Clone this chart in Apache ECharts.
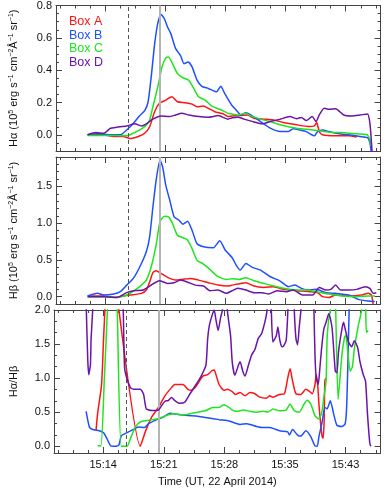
<!DOCTYPE html>
<html>
<head>
<meta charset="utf-8">
<script src="https://cdn.jsdelivr.net/npm/echarts@6/dist/echarts.min.js"></script>
<style>
  html, body { margin: 0; padding: 0; background: #fff; }
  #chart { width: 390px; height: 488px; }
</style>
</head>
<body>
<div id="chart"></div>
<script>
// time axis in minutes after 15:00 UT
var xTickVals = [14, 21.2, 28.4, 35.6, 42.8];
var xTickLabels = ['15:14', '15:21', '15:28', '15:35', '15:43'];
var eventTimes = [16.77, 20.6];   // dashed, solid grey

var boxNames = ['Box A', 'Box B', 'Box C', 'Box D'];
var boxColors = ['#ff1414', '#1f50ff', '#1fe51f', '#6a14a8'];

// H-alpha (10^5 erg s-1 cm-2 A-1 sr-1)
var haA = [[11.93,0.0],[13.88,0.0],[15.05,-0.01],[16.22,-0.01],[17.01,-0.023],[17.98,-0.01],[18.76,0.01],[19.35,0.05],[19.94,0.143],[20.52,0.195],[21.29,0.215],[22.00,0.236],[22.66,0.205],[23.63,0.199],[24.42,0.19],[25.00,0.174],[25.79,0.178],[26.37,0.164],[27.15,0.143],[28.13,0.13],[28.72,0.113],[29.22,0.117],[30.27,0.119],[31.06,0.123],[31.83,0.103],[33.00,0.097],[34.17,0.092],[35.34,0.076],[36.91,0.062],[38.47,0.051],[39.05,0.055],[39.32,0.076],[39.64,0.02],[40.02,0.0],[41.59,-0.006],[43.15,-0.006],[44.12,-0.014]];
var haB = [[11.93,0.0],[13.10,0.006],[14.67,0.0],[15.84,0.0],[16.61,0.03],[17.39,0.07],[18.18,0.12],[18.76,0.15],[19.15,0.2],[19.54,0.36],[19.94,0.56],[20.32,0.69],[20.71,0.745],[21.11,0.718],[21.49,0.667],[21.88,0.626],[22.46,0.533],[23.05,0.49],[23.45,0.44],[23.95,0.45],[24.42,0.42],[25.00,0.34],[25.59,0.30],[26.37,0.287],[27.35,0.266],[27.85,0.30],[28.32,0.256],[28.90,0.205],[29.22,0.18],[29.69,0.154],[30.27,0.123],[30.86,0.137],[31.44,0.123],[32.61,0.082],[33.78,0.041],[34.96,0.02],[35.93,0.02],[36.51,0.037],[37.30,0.03],[38.08,0.02],[39.05,-0.006],[39.44,0.02],[40.02,0.03],[40.81,0.02],[41.98,0.006],[43.15,0.0],[44.52,-0.01],[45.41,-0.018],[45.69,-0.05],[45.88,-0.12]];
var haC = [[11.93,-0.004],[13.88,-0.004],[15.44,-0.004],[16.61,-0.006],[17.39,0.01],[18.18,0.03],[18.95,0.06],[19.35,0.092],[19.74,0.174],[20.32,0.297],[20.83,0.42],[21.29,0.478],[21.61,0.482],[22.08,0.44],[22.66,0.38],[23.25,0.355],[24.03,0.338],[24.62,0.287],[25.20,0.236],[25.98,0.215],[26.76,0.178],[27.73,0.158],[28.72,0.133],[29.22,0.128],[29.89,0.123],[30.86,0.133],[31.44,0.117],[32.61,0.097],[33.78,0.082],[34.96,0.062],[36.91,0.041],[38.85,0.03],[40.81,0.016],[42.37,0.014],[43.93,0.006],[45.29,0.002],[45.69,-0.03],[45.81,-0.07]];
var haD = [[11.93,0.0],[12.91,0.014],[13.88,0.01],[14.67,0.041],[15.44,0.047],[16.61,0.055],[17.59,0.068],[18.37,0.055],[18.95,0.068],[19.74,0.097],[20.71,0.117],[21.69,0.113],[22.46,0.123],[23.17,0.133],[24.03,0.123],[25.20,0.113],[26.37,0.109],[27.54,0.119],[28.72,0.097],[29.22,0.105],[29.89,0.109],[30.66,0.097],[31.83,0.08],[32.81,0.068],[33.78,0.082],[34.96,0.097],[36.13,0.113],[36.91,0.1],[37.50,0.107],[38.08,0.088],[38.78,0.113],[39.25,0.082],[39.64,0.123],[40.22,0.164],[40.81,0.158],[41.59,0.162],[42.57,0.123],[43.54,0.117],[44.52,0.123],[45.41,0.129],[45.69,0.072],[45.88,-0.05],[45.96,-0.12]];

// H-beta (10^5 erg s-1 cm-2 A-1 sr-1)
var hbA = [[11.93,0.008],[13.88,0.008],[15.05,-0.01],[16.22,0.008],[17.01,0.022],[18.37,0.045],[18.95,0.09],[19.35,0.2],[19.74,0.326],[20.12,0.353],[20.71,0.316],[21.49,0.262],[22.46,0.225],[23.25,0.235],[24.22,0.248],[25.20,0.225],[26.37,0.19],[27.54,0.157],[28.72,0.144],[29.22,0.157],[29.89,0.171],[30.86,0.19],[31.83,0.144],[33.00,0.126],[34.17,0.136],[35.34,0.099],[36.91,0.081],[38.47,0.068],[39.44,0.054],[40.02,0.0],[40.81,-0.01],[41.59,0.022],[43.15,0.008],[44.71,0.022],[45.49,0.045],[45.88,0.022],[46.08,-0.11]];
var hbB = [[11.93,0.008],[13.10,0.045],[13.88,0.022],[15.05,0.035],[15.84,0.068],[16.61,0.157],[17.39,0.248],[18.18,0.407],[18.95,0.61],[19.35,0.814],[19.74,1.22],[20.12,1.58],[20.59,1.86],[20.91,1.76],[21.29,1.51],[21.76,1.31],[22.28,1.085],[22.86,1.04],[23.33,0.985],[23.87,1.026],[24.42,0.904],[25.00,0.723],[25.79,0.678],[26.96,0.665],[27.73,0.76],[28.40,0.632],[29.22,0.53],[29.69,0.43],[30.19,0.361],[30.86,0.452],[31.64,0.398],[32.61,0.361],[33.78,0.271],[34.96,0.212],[35.93,0.136],[36.71,0.157],[37.50,0.113],[38.27,0.09],[39.25,0.099],[40.42,0.054],[41.59,0.045],[43.15,0.022],[44.32,-0.037],[45.49,-0.06],[46.28,-0.065]];
var hbC = [[11.93,0.0],[13.88,0.0],[15.44,-0.01],[16.61,0.022],[17.59,0.09],[18.37,0.157],[18.95,0.225],[19.54,0.407],[20.12,0.7],[20.59,1.02],[21.11,1.094],[21.61,1.085],[22.08,0.995],[22.66,0.836],[23.25,0.805],[23.83,0.777],[24.42,0.655],[25.00,0.497],[25.79,0.443],[26.56,0.37],[27.54,0.271],[28.52,0.235],[29.22,0.242],[30.07,0.235],[30.86,0.258],[31.83,0.217],[33.00,0.18],[34.17,0.144],[35.34,0.113],[36.91,0.09],[38.08,0.09],[39.25,0.068],[40.81,0.035],[42.37,0.008],[43.93,0.0],[45.49,0.008],[46.28,0.008]];
var hbD = [[11.93,0.0],[13.88,0.0],[15.44,-0.01],[16.61,0.054],[17.39,0.081],[18.57,0.09],[19.35,0.144],[20.52,0.217],[21.49,0.18],[22.28,0.19],[23.05,0.225],[23.83,0.2],[24.81,0.157],[25.79,0.144],[26.56,0.081],[27.54,0.09],[28.52,0.045],[29.22,0.081],[29.89,0.113],[30.86,0.09],[31.83,0.054],[32.81,0.054],[33.59,0.035],[34.57,0.081],[35.74,0.068],[36.51,0.09],[37.68,0.022],[38.85,0.022],[39.64,0.126],[40.42,0.09],[41.01,0.099],[41.59,0.157],[42.18,0.09],[43.15,0.09],[44.12,0.099],[45.11,0.136],[45.69,0.113],[46.08,0.045],[46.46,0.054]];

// H-alpha / H-beta ratio (values above 2 run off the top of the panel)
var rA = [[13.15,0.235],[13.33,0.475],[13.80,0.9],[14.04,1.58],[14.20,2.0],[14.29,2.4],[15.79,2.4],[15.87,2.0],[18.41,0.0],[19.00,0.21],[19.77,0.43],[20.56,0.57],[21.34,0.74],[22.11,0.86],[22.51,0.906],[23.48,0.906],[24.07,0.835],[24.45,0.82],[25.04,0.88],[25.82,1.026],[26.41,1.05],[26.91,1.108],[27.19,1.12],[27.46,1.026],[27.78,0.906],[28.36,0.82],[28.75,0.835],[29.34,0.8],[29.69,0.76],[30.27,0.787],[30.86,0.74],[31.44,0.787],[32.03,0.77],[32.61,0.72],[33.40,0.705],[33.78,0.74],[34.17,0.72],[34.96,0.76],[35.54,0.77],[35.93,1.0],[36.21,1.137],[36.51,0.955],[36.91,0.77],[37.50,0.76],[38.08,0.835],[38.47,0.81],[38.85,0.77],[39.17,0.906],[39.32,1.05],[39.49,0.906],[39.64,0.62],[39.84,0.33],[40.02,0.14],[40.14,0.115],[40.26,0.38],[40.34,0.955],[40.46,1.0]];
var rB = [[11.97,0.51],[12.36,0.28],[12.75,0.245],[13.53,0.226],[14.04,0.197],[14.43,0.115],[14.90,0.005],[15.49,0.0],[15.87,0.02],[16.14,0.15],[16.66,0.187],[17.43,0.235],[18.21,0.28],[18.88,0.273],[19.39,0.33],[20.17,0.38],[21.14,0.427],[21.93,0.485],[22.90,0.465],[24.07,0.45],[25.24,0.44],[26.41,0.417],[27.78,0.39],[28.95,0.37],[29.34,0.355],[30.27,0.32],[31.06,0.33],[32.23,0.29],[33.00,0.273],[33.78,0.273],[34.96,0.226],[35.93,0.21],[36.13,0.163],[36.51,0.245],[37.10,0.163],[37.50,0.148],[38.08,0.226],[38.67,0.14],[39.17,0.005],[39.44,0.0],[39.64,0.14],[40.02,0.355],[40.34,0.57],[40.61,0.547],[40.99,0.667],[41.39,0.475],[41.78,0.307],[42.37,0.29],[42.76,0.33],[42.95,0.62],[43.15,1.58],[43.23,2.0],[43.30,2.4]];
var rC = [[13.33,0.005],[13.73,0.005],[14.12,0.95],[14.50,2.0],[14.58,2.4],[15.56,2.4],[15.67,2.0],[16.14,0.0],[16.85,0.0],[17.24,0.115],[17.83,0.283],[18.41,0.355],[19.39,0.38],[20.36,0.4],[21.53,0.45],[22.31,0.475],[23.48,0.46],[24.27,0.475],[25.24,0.5],[26.21,0.523],[26.99,0.57],[27.78,0.57],[28.36,0.61],[28.95,0.57],[29.34,0.53],[29.89,0.513],[30.66,0.53],[31.44,0.513],[32.23,0.5],[33.00,0.513],[33.59,0.5],[34.17,0.547],[34.96,0.52],[35.74,0.53],[36.21,0.62],[36.71,0.52],[37.30,0.5],[37.88,0.62],[38.27,0.676],[38.67,0.62],[39.17,0.45],[39.56,0.4],[39.95,0.475],[40.22,0.715],[40.49,0.955],[40.61,1.58],[40.81,1.87],[40.99,2.0],[41.10,2.4],[41.51,2.4],[41.63,2.0],[41.92,0.69],[42.37,1.34],[42.68,1.6],[42.83,1.63],[43.07,1.39],[43.35,1.1],[43.62,1.17],[43.85,1.43],[44.32,1.77],[44.71,2.0],[44.79,2.4],[45.11,2.4],[45.20,2.0],[45.29,1.67],[45.49,1.7]];
var rD = [[11.97,2.1],[12.16,1.28],[12.28,1.05],[12.48,1.2],[12.56,1.58],[12.75,2.0],[12.83,2.4],[16.22,2.4],[16.38,2.0],[16.54,1.15],[16.85,0.98],[17.24,0.86],[17.63,0.835],[18.41,0.835],[18.80,0.76],[19.12,0.547],[19.77,0.523],[20.56,0.53],[20.94,0.595],[21.34,0.66],[21.73,0.67],[22.11,0.715],[22.51,0.67],[23.10,0.63],[23.68,0.645],[24.27,0.76],[25.04,0.906],[25.63,1.026],[26.21,1.19],[26.41,1.57],[26.61,1.77],[26.91,1.91],[27.19,2.0],[27.38,1.87],[27.66,1.70],[27.97,1.9],[28.17,2.0],[28.28,2.4],[28.63,2.4],[28.75,2.0],[29.14,1.62],[29.34,1.23],[29.65,1.04],[30.07,1.19],[30.27,1.24],[30.59,1.1],[30.86,1.03],[31.24,1.18],[31.64,1.34],[32.03,1.42],[32.42,1.58],[32.81,1.65],[33.00,1.72],[33.32,1.88],[33.47,2.0],[33.55,2.4],[33.90,2.4],[33.98,2.0],[34.17,1.53],[34.57,1.62],[34.76,1.75],[34.96,1.58],[35.15,1.48],[35.34,1.46],[35.74,1.55],[35.95,2.0],[36.07,2.4],[36.65,2.4],[36.71,2.0],[36.91,1.58],[37.10,1.49],[37.30,1.75],[37.50,2.0],[37.59,2.4],[38.99,2.4],[39.05,2.0],[39.17,1.34],[39.32,1.0],[39.56,0.906],[39.72,1.1],[39.95,1.43],[40.22,1.72],[40.49,1.82],[40.81,1.95],[41.19,1.75],[41.39,1.43],[41.59,1.1],[41.78,1.08],[41.98,1.4],[42.37,1.72],[42.57,1.82],[42.76,1.72],[43.15,1.53],[43.54,1.46],[43.85,1.55],[44.24,1.45],[44.52,1.24],[44.91,1.05],[45.18,0.955],[45.41,0.475],[45.69,0.04],[45.81,0.0]];

var panels = [
  {data: [haA, haB, haC, haD], min: -0.1, max: 0.8, major: [0, 0.2, 0.4, 0.6, 0.8], minorStep: 0.05, minorFrom: -0.1,
   name: 'Hα (10{s|5} erg s{s|−1} cm{s|−2}Å{s|−1} sr{s|−1})'},
  {data: [hbA, hbB, hbC, hbD], min: -0.1, max: 1.9, major: [0, 0.5, 1.0, 1.5], minorStep: 0.1, minorFrom: -0.1,
   name: 'Hβ (10{s|5} erg s{s|−1} cm{s|−2}Å{s|−1} sr{s|−1})'},
  {data: [rA, rB, rC, rD], min: -0.1, max: 2.0, major: [0, 0.5, 1.0, 1.5, 2.0], minorStep: 0.5 / 3, minorFrom: 0,
   name: 'Hα/Hβ'}
];
var grids = [
  {left: 49, right: 9.4, top: 5, height: 146},
  {left: 49, right: 9.4, top: 157, height: 147},
  {left: 49, right: 9.4, top: 310, height: 146}
];

var xMin = 8.15, xMax = 46.97;
var AX = '#444';
var FONT = 'Liberation Sans, Arial, sans-serif';

function steps(from, to, step) {
  var out = [];
  for (var i = 0; from + i * step <= to + 1e-9; i++) out.push(+(from + i * step).toFixed(4));
  return out;
}
var xMinor = steps(14 - 1.8 * 3, xMax, 1.8);

function mkX(gi, pos, vals, len, line) {
  return {gridIndex: gi, type: 'value', position: pos, min: xMin, max: xMax,
    splitLine: {show: false},
    axisLine: {show: line, onZero: false, lineStyle: {color: AX, width: 1}},
    axisTick: {show: true, inside: true, length: len, customValues: vals, lineStyle: {color: AX}},
    axisLabel: {show: false}};
}
function mkY(gi, pos, p, vals, len, line) {
  return {gridIndex: gi, type: 'value', position: pos, min: p.min, max: p.max,
    splitLine: {show: false},
    axisLine: {show: line, onZero: false, lineStyle: {color: AX, width: 1}},
    axisTick: {show: true, inside: true, length: len, customValues: vals, lineStyle: {color: AX}},
    axisLabel: {show: false}};
}

var xAxes = [], yAxes = [], series = [];
panels.forEach(function (p, gi) {
  var yMinor = steps(p.minorFrom, p.max, p.minorStep);
  var xb = mkX(gi, 'bottom', xTickVals, 6, true);
  if (gi === 2) {
    xb.axisLabel = {show: true, customValues: xTickVals, margin: 6, fontSize: 11, color: '#111', fontFamily: FONT,
      formatter: function (v) {
        for (var i = 0; i < xTickVals.length; i++) if (Math.abs(xTickVals[i] - v) < 1e-6) return xTickLabels[i];
        return '';
      }};
    xb.name = 'Time (UT, 22 April 2014)';
    xb.nameLocation = 'middle';
    xb.nameGap = 23;
    xb.nameTextStyle = {fontSize: 11, color: '#111', fontFamily: FONT};
  }
  xAxes.push(xb, mkX(gi, 'bottom', xMinor, 3, false), mkX(gi, 'top', xTickVals, 6, true), mkX(gi, 'top', xMinor, 3, false));

  var yl = mkY(gi, 'left', p, p.major, 6, true);
  yl.axisLabel = {show: true, customValues: p.major, margin: 4, fontSize: 11, color: '#111', fontFamily: FONT,
    formatter: function (v) { return v.toFixed(1); }};
  yl.name = p.name;
  yl.nameLocation = 'middle';
  yl.nameRotate = 90;
  yl.nameGap = gi === 2 ? 35 : 37;
  yl.nameTextStyle = {fontSize: 11, color: '#111', fontFamily: FONT,
    rich: {s: {fontSize: 7, verticalAlign: 'top', color: '#111', fontFamily: FONT}}};
  yAxes.push(yl, mkY(gi, 'left', p, yMinor, 3, false), mkY(gi, 'right', p, p.major, 6, true), mkY(gi, 'right', p, yMinor, 3, false));

  // event markers
  series.push({type: 'line', xAxisIndex: gi * 4, yAxisIndex: gi * 4, data: [], z: 1, silent: true,
    markLine: {silent: true, symbol: ['none', 'none'], label: {show: false}, animation: false,
      data: [
        {xAxis: eventTimes[0], lineStyle: {type: [4, 3], color: '#555', width: 1}},
        {xAxis: eventTimes[1], lineStyle: {type: 'solid', color: '#b4b4b4', width: 2}}
      ]}});

  p.data.forEach(function (d, k) {
    series.push({name: boxNames[k], type: 'line', xAxisIndex: gi * 4, yAxisIndex: gi * 4, data: d,
      showSymbol: false, smooth: 0.2, clip: true, z: 2 + k,
      lineStyle: {color: boxColors[k], width: 1.5}, itemStyle: {color: boxColors[k]}});
  });
});

var chart = echarts.init(document.getElementById('chart'));
chart.setOption({
  animation: false,
  backgroundColor: '#fff',
  grid: grids,
  xAxis: xAxes,
  yAxis: yAxes,
  legend: {
    orient: 'vertical', left: 59, top: 10, icon: 'none', itemWidth: 0, itemHeight: 14, itemGap: 0,
    selectedMode: false,
    textStyle: {fontSize: 12.5, fontFamily: FONT},
    data: boxNames.map(function (n, k) { return {name: n, textStyle: {color: boxColors[k]}}; })
  },
  series: series
});
</script>
</body>
</html>
